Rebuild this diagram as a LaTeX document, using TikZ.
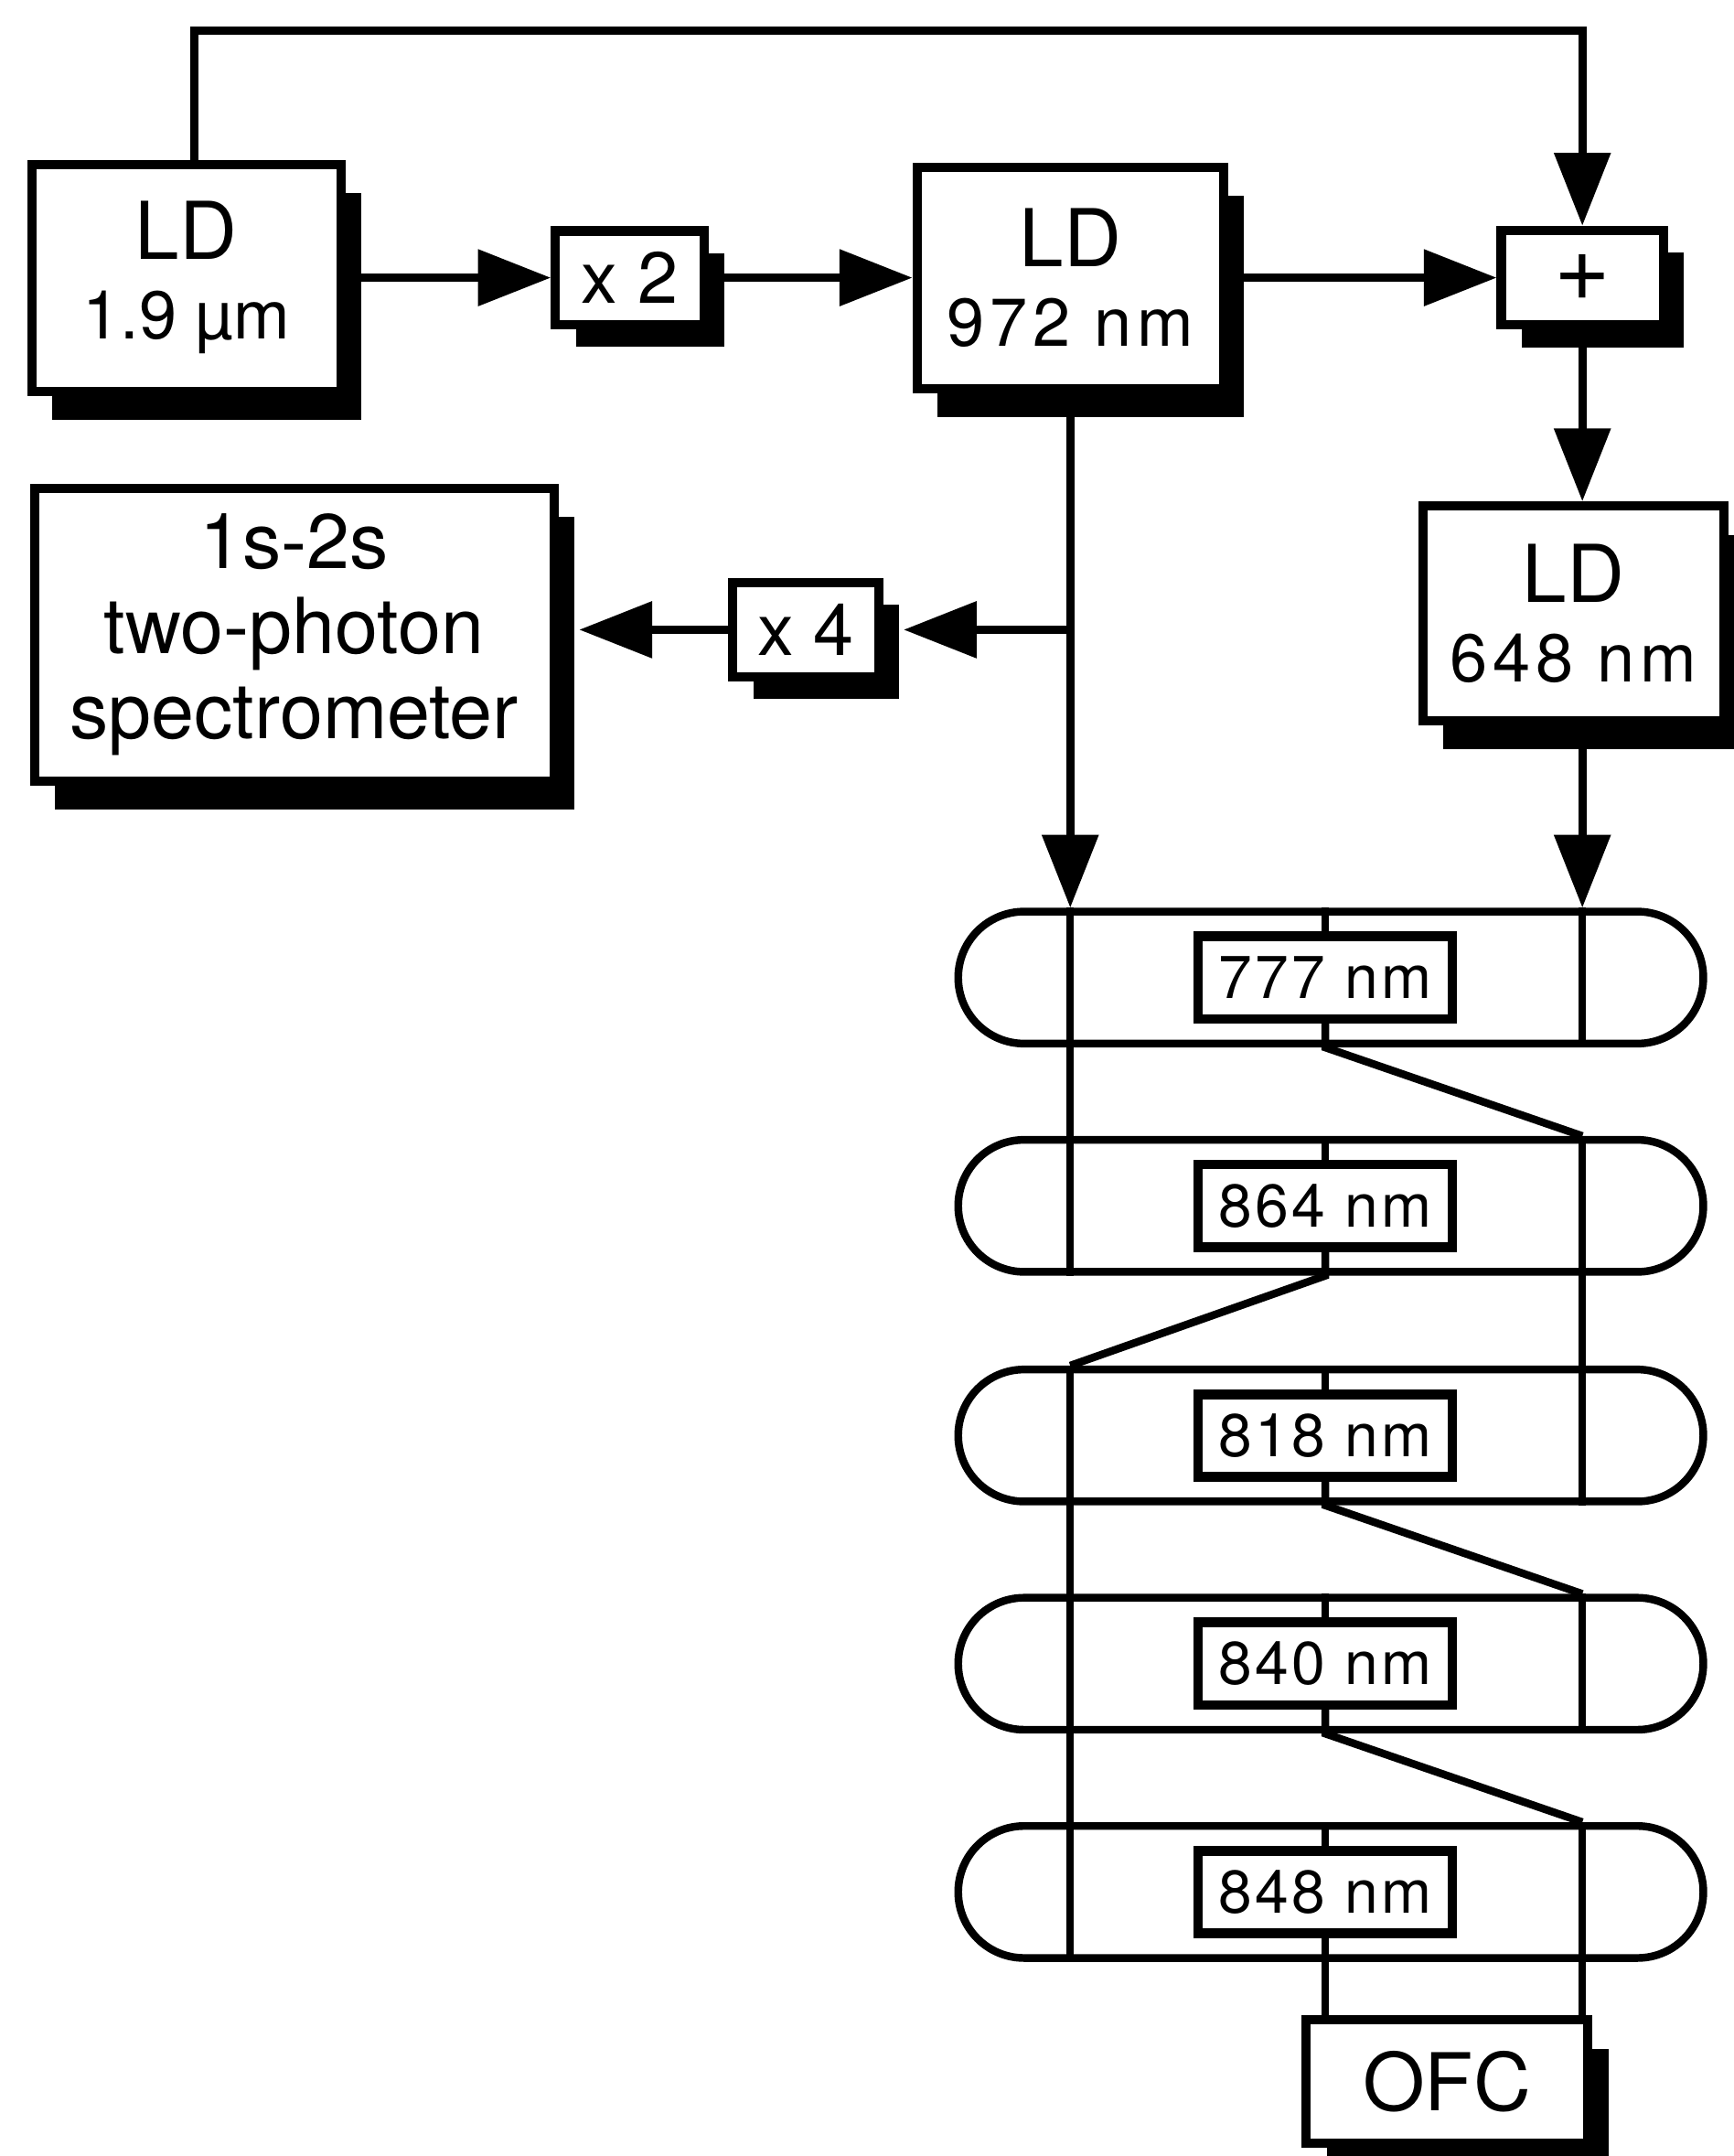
\documentclass[tikz,border=0pt]{standalone}
\usepackage{fontspec}
\setmainfont{TeX Gyre Heros}
\newfontfamily\spacedfont[LetterSpace=8]{TeX Gyre Heros}
\newfontfamily\labfont[LetterSpace=5]{TeX Gyre Heros}
\usetikzlibrary{arrows.meta,shadows}
\newcommand{\ldfont}{\fontsize{16.5}{16.5}\selectfont}

\begin{document}
\begin{tikzpicture}[x=1cm, y=1cm, >={Triangle[length=5.3mm,width=4mm]}, line width=1.7pt,
		dev/.style={draw, fill=white, line width=1.9pt, align=center, inner sep=0pt,
			font=\fontsize{14}{16.5}\selectfont,
			drop shadow={shadow xshift=1.5mm, shadow yshift=#1, fill=black, opacity=1}},
		dev/.default=-2.1mm,
		mul/.style={dev=-1.6mm, minimum height=6.8mm, font=\fontsize{15}{15}\selectfont},
		cell/.style={draw, line width=1.6pt, rounded corners=4.8mm, minimum width=5.42cm, minimum height=9.6mm, inner sep=0pt},
		wl/.style={draw, fill=white, line width=2pt, minimum width=1.85cm, minimum height=6mm, inner sep=0pt,
			font=\fontsize{12.5}{12.5}\labfont}]
	\useasboundingbox (0,0) rectangle (12.61,15.68);

	% 1. 激光器与倍频 (上排)
	\node[dev, minimum width=2.25cm, minimum height=1.65cm] (ld1) at (1.355,13.66) {{\ldfont LD}\\1.9 µm};
	\node[mul, minimum width=1.08cm] (x2) at (4.58,13.66) {x 2};
	\node[dev, minimum width=2.23cm, minimum height=1.61cm] (ld972) at (7.785,13.66) {{\ldfont LD}\\{\spacedfont 972 nm}};
	\node[mul, minimum width=1.18cm, minimum height=6.9mm, font=\fontsize{20}{20}\selectfont] (plus) at (11.51,13.66) {+};

	% 2. 第二排
	\node[dev, minimum width=2.19cm, minimum height=1.56cm] (ld648) at (11.445,11.22) {{\ldfont LD}\\{\spacedfont 648 nm}};
	\node[dev, minimum width=3.78cm, minimum height=2.13cm, font=\fontsize{16}{17.6}\selectfont] (spect) at (2.14,11.065) {1s-2s\\two-photon\\spectrometer};
	\node[mul, minimum width=1.06cm] (x4) at (5.86,11.10) {x 4};

	% 3. 腔体与波长标签
	\node[cell] (c1) at (9.68,8.57) {};
	\node[cell] (c2) at (9.68,6.91) {};
	\node[cell] (c3) at (9.68,5.24) {};
	\node[cell] (c4) at (9.68,3.58) {};
	\node[cell] (c5) at (9.68,1.92) {};
	\node[wl] (w1) at (9.64,8.57) {777 nm};
	\node[wl] (w2) at (9.64,6.91) {864 nm};
	\node[wl] (w3) at (9.64,5.24) {818 nm};
	\node[wl] (w4) at (9.64,3.58) {840 nm};
	\node[wl] (w5) at (9.64,1.92) {848 nm};
	\node[dev, minimum width=2.05cm, minimum height=9mm, font=\ldfont] (ofc) at (10.525,0.54) {OFC};

	% 4. 箭头
	\coordinate (topbar) at (11.51,15.46);
	\draw[->] ([xshift=0.6mm]ld1.north) |- (topbar) -- (plus.north);
	\draw[->] (ld1.east) -- (x2.west);
	\draw[->] (x2.east) -- (ld972.west);
	\draw[->] (ld972.east) -- (plus.west);
	\draw[->] (plus.south) -- (ld648.north -| plus.south);
	\draw[->] (ld648.south -| plus.south) -- (c1.north -| plus.south);
	\draw[->] (ld972.south) -- (c1.north -| ld972.south);
	\coordinate (branch) at (ld972.south |- x4);
	\draw[->] (branch) -- ([xshift=1.5mm]x4.east);
	\draw[->] (x4.west) -- ([xshift=1.5mm]x4.west -| spect.east);

	% 5. 竖线与折线
	\begin{scope}[line width=1.6pt]
		\draw (c1.north -| ld972.south) -- (c2.south -| ld972.south);
		\draw (c3.north -| ld972.south) -- (c5.south -| ld972.south);
		\draw (c1.north -| plus.south) -- (c1.south -| plus.south);
		\draw (c2.north -| plus.south) -- (c3.south -| plus.south);
		\draw (c4.north -| plus.south) -- (c4.south -| plus.south);
		\draw (c5.north -| plus.south) -- (ofc.north -| plus.south);
		\draw (w1.north) -- (c1.north -| w1.north);
		\draw (w2.north) -- (c2.north -| w2.north);
		\draw (w3.north) -- (c3.north -| w3.north);
		\draw (w4.north) -- (c4.north -| w4.north);
		\draw (w5.north) -- (c5.north -| w5.north);
		\draw (w1.south) -- (c1.south -| w1.south) -- (c2.north -| plus.south);
		\draw (w2.south) -- (c2.south -| w2.south) -- (c3.north -| ld972.south);
		\draw (w3.south) -- (c3.south -| w3.south) -- (c4.north -| plus.south);
		\draw (w4.south) -- (c4.south -| w4.south) -- (c5.north -| plus.south);
		\draw (w5.south) -- (ofc.north -| w5.south);
	\end{scope}
\end{tikzpicture}
\end{document}
